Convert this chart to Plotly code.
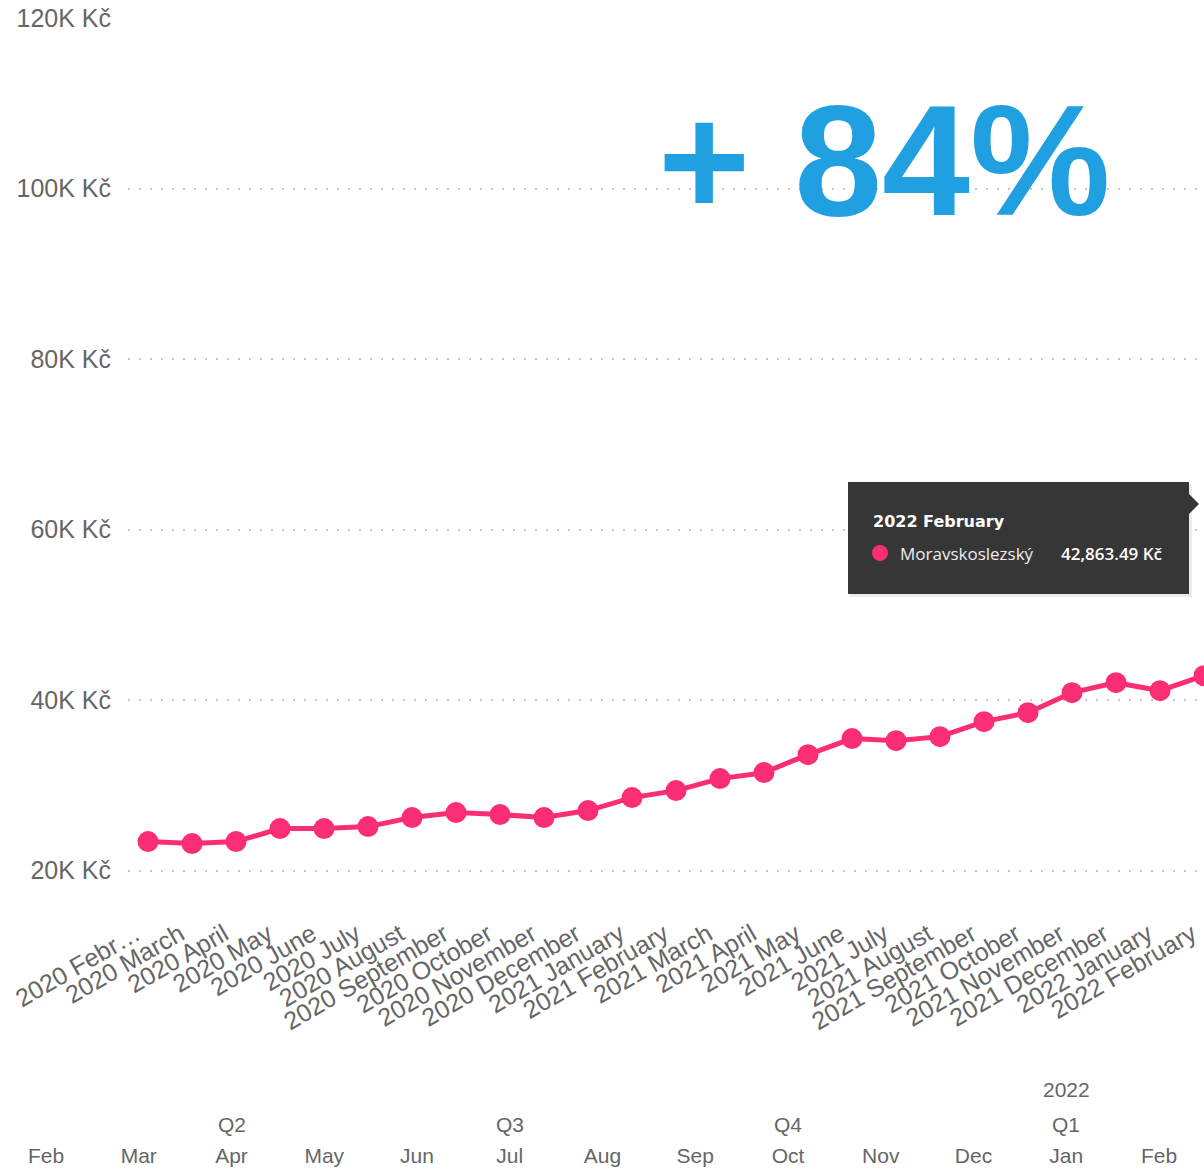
import plotly.graph_objects as go

# Monthly average price, Moravskoslezský region
months = [
    "2020 February", "2020 March", "2020 April", "2020 May", "2020 June",
    "2020 July", "2020 August", "2020 September", "2020 October",
    "2020 November", "2020 December", "2021 January", "2021 February",
    "2021 March", "2021 April", "2021 May", "2021 June", "2021 July",
    "2021 August", "2021 September", "2021 October", "2021 November",
    "2021 December", "2022 January", "2022 February",
]
month_tick_text = ["2020 Febr…"] + months[1:]
values = [
    23410, 23180, 23410, 24940, 24940, 25170, 26230, 26810, 26580, 26230,
    27050, 28570, 29390, 30800, 31500, 33610, 35490, 35250, 35720, 37480,
    38530, 40880, 42050, 41110, 42863.49,
]
series_name = "Moravskoslezský"

y_tick_vals = [20000, 40000, 60000, 80000, 100000, 120000]
y_tick_text = ["20K Kč", "40K Kč", "60K Kč", "80K Kč", "100K Kč", "120K Kč"]

# Date hierarchy shown under the category axis
hier_months = ["Feb", "Mar", "Apr", "May", "Jun", "Jul", "Aug", "Sep",
               "Oct", "Nov", "Dec", "Jan", "Feb"]
quarter_labels = ["Q2", "Q3", "Q4", "Q1"]
quarter_pos = [2, 5, 8, 11]
year_labels = ["2022"]
year_pos = [11]

growth_text = "+ 84%"

W, H = 1204, 1171
M_T, M_B = 18, 30
PLOT_H = H - M_T - M_B


def px_x(px):
    return px / W


def px_y(py):
    return (H - M_B - py) / PLOT_H


PINK = "#FB2D74"
GREY = "#666666"
FONT = "Liberation Sans, Arial, sans-serif"
TIP_FONT = "Open Sans, Segoe UI, sans-serif"

# rotated category labels sit slightly back from their tick
label_pad = "\u00a0\u00a0"
x_tick_text = [t + label_pad for t in month_tick_text]

fig = go.Figure()

fig.add_trace(go.Scatter(
    x=months, y=values, name=series_name, mode="lines+markers",
    line=dict(color=PINK, width=5),
    marker=dict(color=PINK, size=21),
    showlegend=False, hoverinfo="skip",
))

# helper trace so the hierarchy axis gets drawn
fig.add_trace(go.Scatter(
    x=list(range(len(hier_months))), y=[None] * len(hier_months),
    xaxis="x2", yaxis="y2", mode="markers", showlegend=False,
    hoverinfo="skip",
))

fig.update_layout(
    width=W, height=H,
    margin=dict(l=0, r=0, t=M_T, b=M_B, autoexpand=False),
    paper_bgcolor="white", plot_bgcolor="rgba(0,0,0,0)",
    font=dict(family=FONT, color=GREY),
    xaxis=dict(
        domain=[px_x(128), 1], range=[-0.455, 24],
        tickmode="array", tickvals=months, ticktext=x_tick_text,
        tickangle=-30, tickfont=dict(size=25, color=GREY),
        ticklabelstandoff=15,
        showgrid=False, zeroline=False, showline=False, ticks="",
        automargin=False, fixedrange=True,
    ),
    yaxis=dict(
        domain=[px_y(892), 1], range=[17500, 120000],
        tickmode="array", tickvals=y_tick_vals, ticktext=y_tick_text,
        tickfont=dict(size=25, color=GREY),
        showgrid=True, gridcolor="#C8C8C8", gridwidth=1.5,
        griddash="2px,9px",
        zeroline=False, showline=False, ticks="", ticklabelstandoff=16,
        automargin=False, fixedrange=True,
    ),
    xaxis2=dict(
        domain=[0, 1], range=[-0.496, 12.485], anchor="free", position=0,
        tickmode="array", tickvals=list(range(len(hier_months))),
        ticktext=hier_months, tickfont=dict(size=21, color=GREY),
        showgrid=False, zeroline=False, showline=False, ticks="",
        automargin=False, fixedrange=True,
    ),
    yaxis2=dict(domain=[0, 0.02], visible=False, showgrid=False,
                anchor="x2", fixedrange=True),
)

# quarter and year rows of the hierarchy
for q, p in zip(quarter_labels, quarter_pos):
    fig.add_annotation(x=p, y=px_y(1124), xref="x2", yref="paper", text=q,
                       showarrow=False, font=dict(size=21, color=GREY),
                       xanchor="center", yanchor="middle")
for yl, p in zip(year_labels, year_pos):
    fig.add_annotation(x=p, y=px_y(1089), xref="x2", yref="paper", text=yl,
                       showarrow=False, font=dict(size=21, color=GREY),
                       xanchor="center", yanchor="middle")

# big growth figure
fig.add_annotation(x=px_x(884), y=px_y(160), xref="paper", yref="paper",
                   text=f"<b>{growth_text}</b>", showarrow=False,
                   font=dict(size=158, color="#21A0E1",
                             family="Liberation Sans, Arial, sans-serif"),
                   xanchor="center", yanchor="middle")

# tooltip for the last month
TIP_BG = "#363636"
fig.add_shape(type="rect", xref="paper", yref="paper",
              x0=px_x(850), x1=px_x(1192), y0=px_y(597), y1=px_y(484),
              fillcolor="rgba(0,0,0,0.08)", line=dict(width=0), layer="above")
fig.add_shape(type="rect", xref="paper", yref="paper",
              x0=px_x(848), x1=px_x(1189), y0=px_y(594), y1=px_y(482),
              fillcolor=TIP_BG, line=dict(width=0), layer="above")
fig.add_shape(type="path", xref="paper", yref="paper",
              xsizemode="pixel", ysizemode="pixel",
              xanchor=px_x(1189), yanchor=px_y(504),
              path="M 0 10 L 10 0 L 0 -10 Z",
              fillcolor=TIP_BG, line=dict(width=0), layer="above")
fig.add_shape(type="circle", xref="paper", yref="paper",
              xsizemode="pixel", ysizemode="pixel",
              xanchor=px_x(880), yanchor=px_y(553),
              x0=-8, x1=8, y0=-8, y1=8,
              fillcolor=PINK, line=dict(width=0), layer="above")
fig.add_annotation(x=px_x(871), y=px_y(521), xref="paper", yref="paper",
                   text=months[-1], showarrow=False,
                   font=dict(size=16, color="white",
                             family="DejaVu Sans, sans-serif", weight=600),
                   xanchor="left", yanchor="middle")
fig.add_annotation(x=px_x(898), y=px_y(553), xref="paper", yref="paper",
                   text=series_name, showarrow=False,
                   font=dict(size=17, color="#EDEDED", family=TIP_FONT),
                   xanchor="left", yanchor="middle")
fig.add_annotation(x=px_x(1165), y=px_y(553), xref="paper", yref="paper",
                   text=f"{values[-1]:,.2f} Kč", showarrow=False,
                   font=dict(size=17, color="white", family=TIP_FONT,
                             weight=600),
                   xanchor="right", yanchor="middle")

fig.write_html("out.html")
